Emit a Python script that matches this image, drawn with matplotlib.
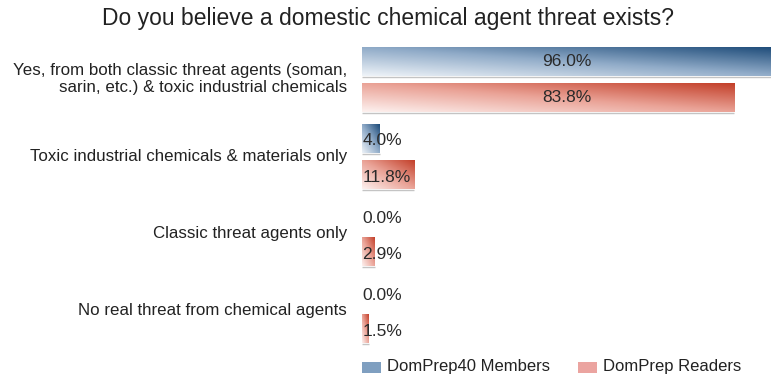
import numpy as np
import matplotlib
matplotlib.use("Agg")
import matplotlib.pyplot as plt
from matplotlib.colors import LinearSegmentedColormap
from matplotlib.patches import Rectangle

plt.rcParams['font.family'] = ['Liberation Sans', 'DejaVu Sans']

title = "Do you believe a domestic chemical agent threat exists?"
categories = [
    "Yes, from both classic threat agents (soman,\nsarin, etc.) & toxic industrial chemicals",
    "Toxic industrial chemicals & materials only",
    "Classic threat agents only",
    "No real threat from chemical agents",
]
members = [96.0, 4.0, 0.0, 0.0]
readers = [83.8, 11.8, 2.9, 1.5]
series_names = ["DomPrep40 Members", "DomPrep Readers"]

blue_cmap = LinearSegmentedColormap.from_list("b", ["#eef3f8", "#90abc8", "#1c4a78"])
red_cmap = LinearSegmentedColormap.from_list("r", ["#fdf1ef", "#eaa397", "#c3402a"])

fig = plt.figure(figsize=(7.71, 3.79), dpi=100)
ax = fig.add_axes([362 / 771, 1 - 349.5 / 379, 409 / 771, 308.5 / 379])

XMAX = 92.1
n = len(categories)
off = 0.235
h = 0.37

grad = np.add.outer(np.linspace(0, 1, 40), np.linspace(0, 1, 200)) / 2.0


def draw_bar(val, y, cmap):
    if val <= 0:
        return
    ax.imshow(grad, cmap=cmap, origin='lower', aspect='auto',
              extent=(0, val, y + h / 2, y - h / 2), interpolation='bilinear',
              zorder=2, clip_on=True)
    # faint shadow line under the bar
    ax.plot([0, min(val, XMAX)], [y + h / 2 + 0.015] * 2, color='#c4c4c4', lw=1.0,
            zorder=1, solid_capstyle='butt')


for i in range(n):
    for val, dy, cmap in ((members[i], -off, blue_cmap), (readers[i], off, red_cmap)):
        y = i + dy
        draw_bar(val, y, cmap)
        label = f"{val:.1f}%"
        if val > 40:
            ax.text(XMAX / 2, y, label, ha='center', va='center', fontsize=12.5,
                    color='#2a2a2a', zorder=3)
        else:
            ax.text(0.1, y + 0.03, label, ha='left', va='center', fontsize=12.5,
                    color='#2a2a2a', zorder=3)

ax.set_xlim(0, XMAX)
ax.set_ylim(n - 0.5, -0.5)
ax.axis('off')

for i, cat in enumerate(categories):
    fig.text(347 / 771, 1 - (79 + i * 77.2) / 379, cat, ha='right', va='center',
             fontsize=12.2, color='#222222', linespacing=1.2,
             transform=fig.transFigure)

fig.text(388 / 771, 1 - 18 / 379, title, ha='center', va='center', fontsize=16.5,
         color='#222222')

# legend
legend_items = [(362, "#7f9fc0", series_names[0]), (578, "#eba4a0", series_names[1])]
for x0, col, name in legend_items:
    fig.patches.append(Rectangle((x0 / 771, 1 - 373 / 379), 19 / 771, 11 / 379,
                                 transform=fig.transFigure, facecolor=col,
                                 edgecolor='none'))
    fig.text((x0 + 25) / 771, 1 - 367 / 379, name, ha='left', va='center',
             fontsize=12, color='#222222')

fig.savefig("out.png", dpi=100)
